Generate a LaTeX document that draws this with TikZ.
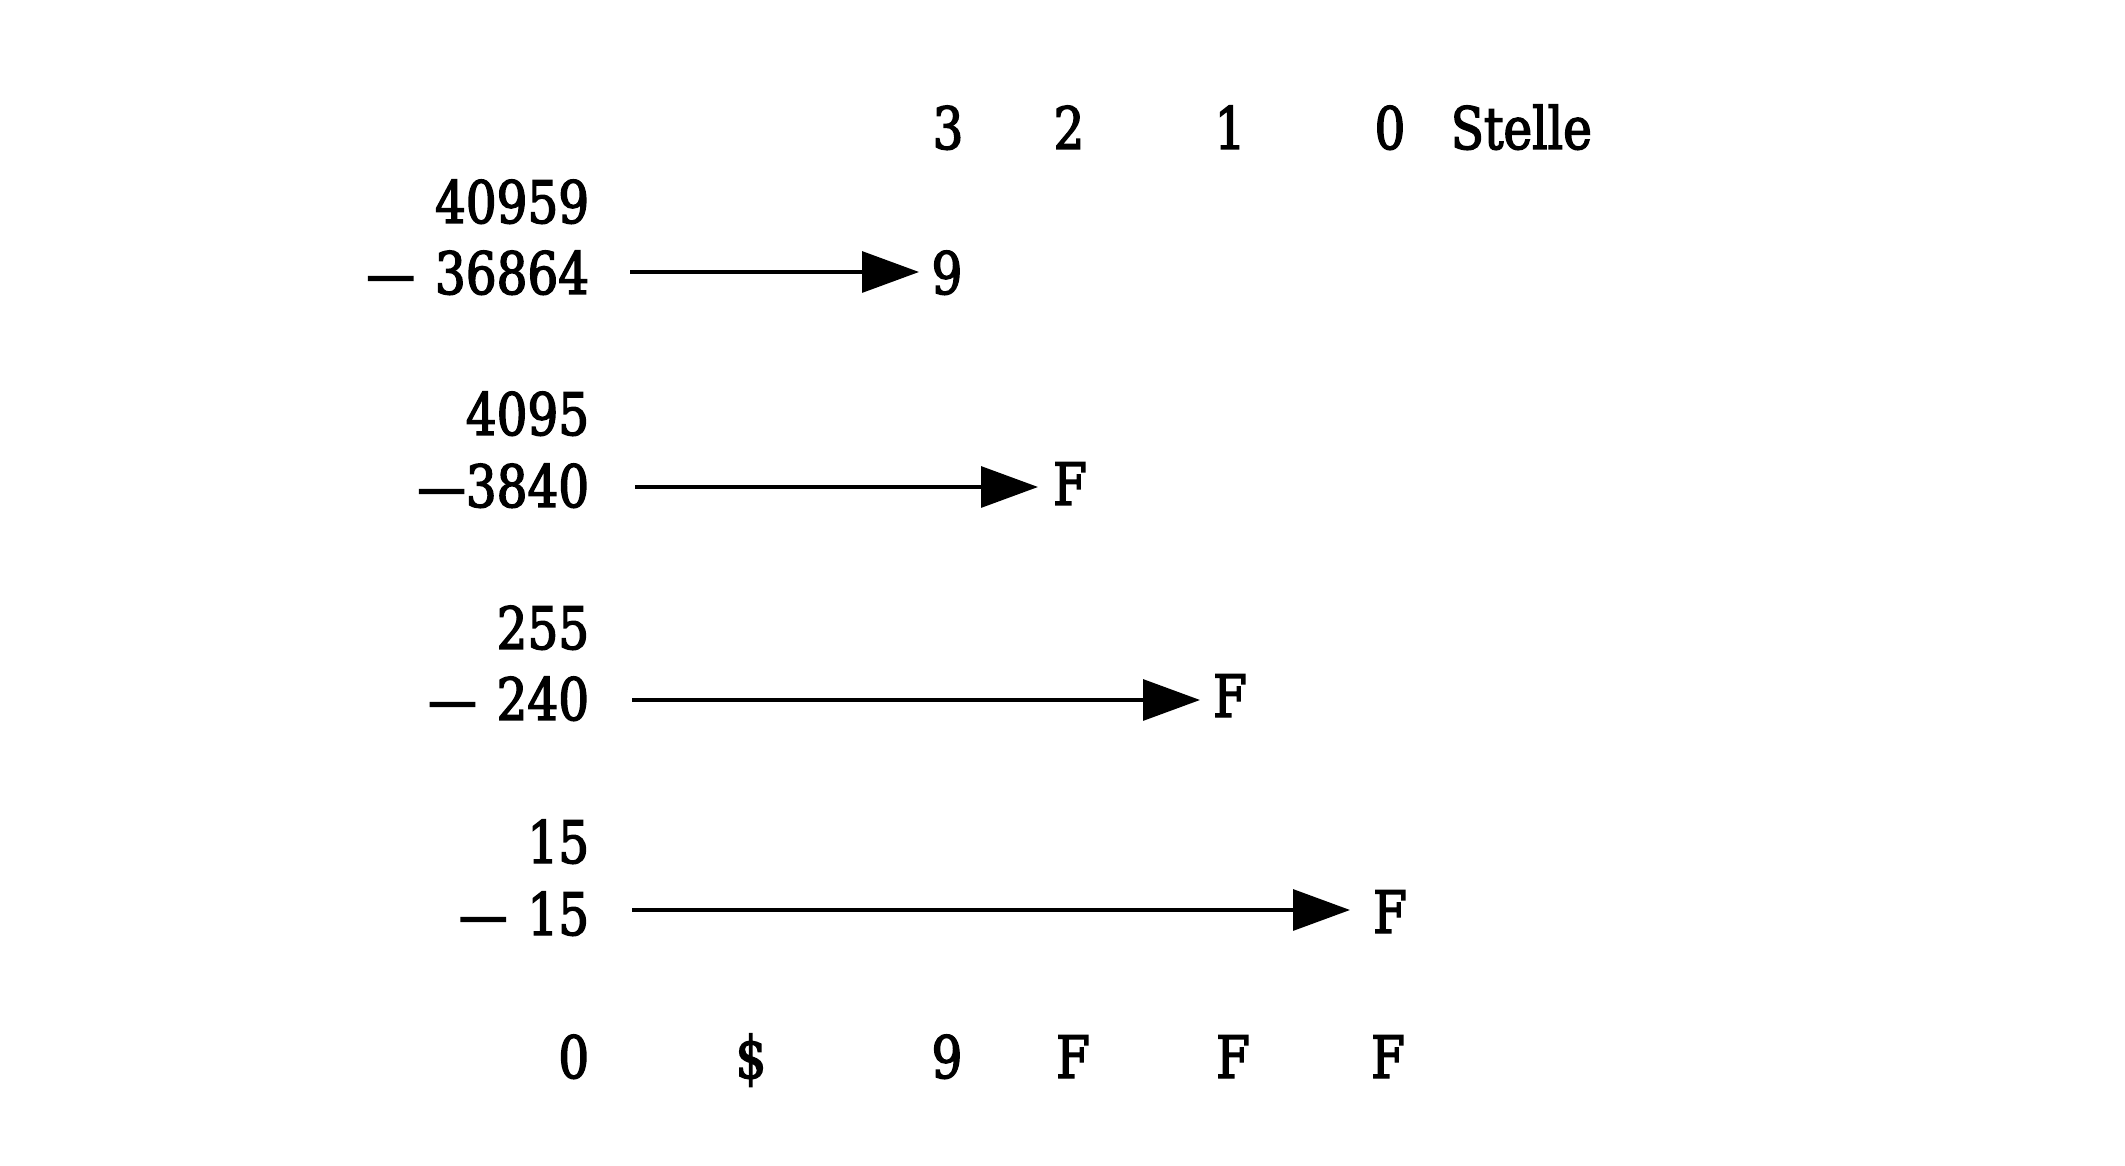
\documentclass[tikz,border=0pt]{standalone}
\usepackage{fontspec}
\newfontfamily\df{DejaVu Serif}[FakeStretch=0.83,FakeBold=2.5]
\usetikzlibrary{arrows.meta}
\tikzset{
  txt/.style={font=\df\fontsize{14.6}{18}\selectfont, inner sep=0pt},
  num/.style={txt, anchor=base east},
  col/.style={txt, anchor=base},
  arr/.style={line width=0.8pt, -{Triangle[length=14.25pt,width=10.25pt]}}
}
\newcommand{\gapm}{—\hspace{5pt}}
\begin{document}
\begin{tikzpicture}[x=0.25pt,y=-0.25pt]
\useasboundingbox (0,0) rectangle (2125,1166);
% header
\node[col] (h3) at (948,149) {3};
\node[col] (h2) at (1069,149) {2};
\node[col] (h1) at (1230,149) {1};
\node[col] (h0) at (1390,149) {0};
\node[txt, anchor=base west] (stelle) at (1450,149) {Stelle};
% rows
\node[num] (m1) at (590,223) {40959};
\node[num] (n1) at (590,294) {\gapm 36864};
\node[num] (m2) at (590,435) {4095};
\node[num] (n2) at (590,507) {—3840};
\node[num] (m3) at (590,649) {255};
\node[num] (n3) at (590,720) {\gapm 240};
\node[num] (m4) at (590,863) {15};
\node[num] (n4) at (590,935) {\gapm 15};
% digits
\node[col] (d1) at (947,294) {9};
\node[col] (d2) at (1070,505) {F};
\node[col] (d3) at (1230,717) {F};
\node[col] (d4) at (1390,933) {F};
% bottom
\node[num] (b0) at (590,1078) {0};
\node[col] (bd) at (751,1078) {\$};
\node[col] (b9) at (947,1078) {9};
\node[col] (bf2) at (1073,1078) {F};
\node[col] (bf1) at (1233,1078) {F};
\node[col] (bf0) at (1388,1078) {F};
% arrows
\coordinate (a1) at (630,272);
\coordinate (a2) at (635,487);
\coordinate (a3) at (632,700);
\coordinate (a4) at (632,910);
\draw[arr, shorten >=7pt] (a1) -- (a1 -| d1);
\draw[arr, shorten >=8pt] (a2) -- (a2 -| d2);
\draw[arr, shorten >=7.5pt] (a3) -- (a3 -| d3);
\draw[arr, shorten >=10pt] (a4) -- (a4 -| d4);
\end{tikzpicture}
\end{document}
